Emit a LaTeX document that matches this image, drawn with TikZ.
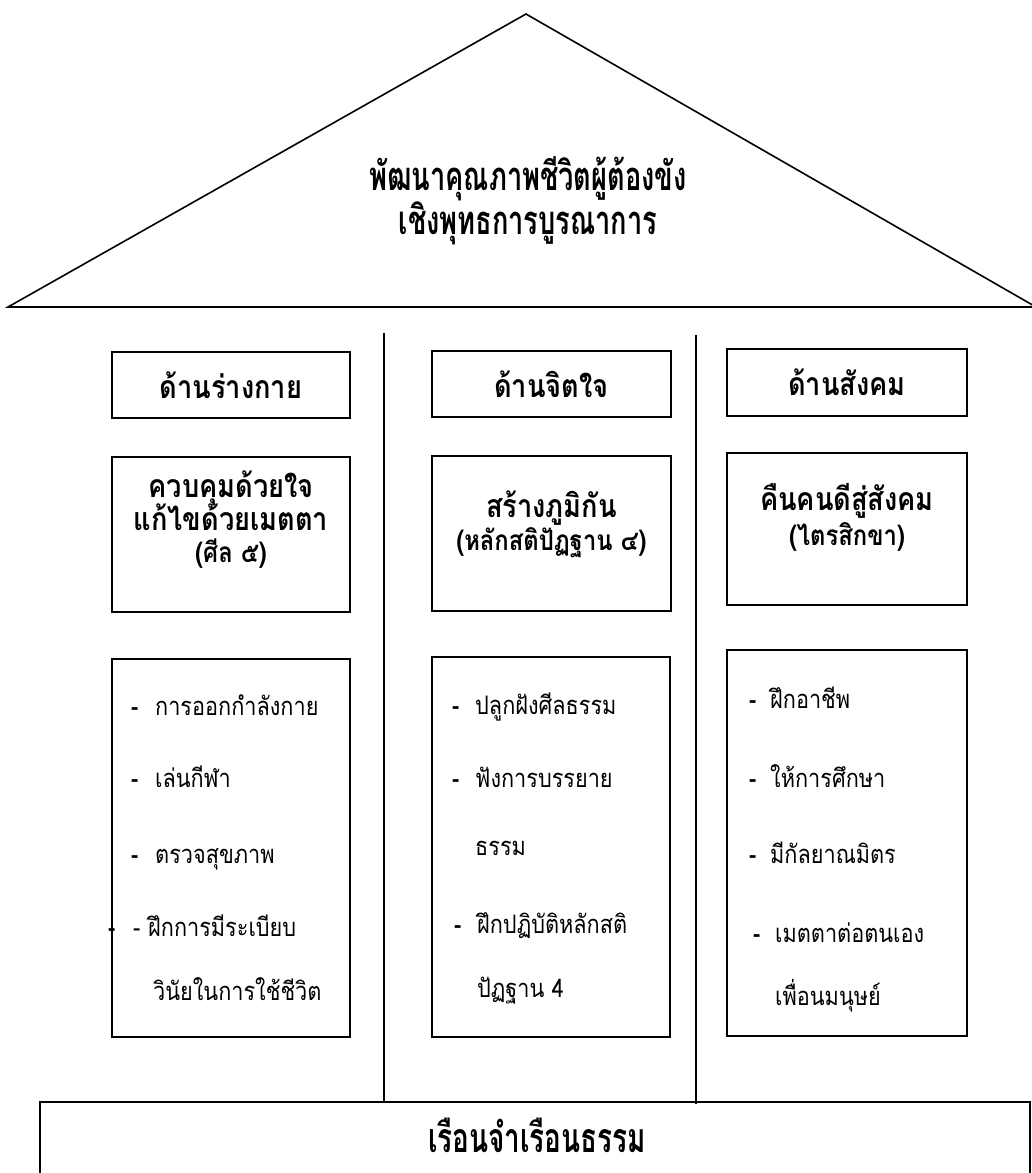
\documentclass[tikz,border=0pt]{standalone}
\usepackage{fontspec}
\newfontfamily\thaifont[Script=Thai,FakeStretch=0.85]{Loma}
\newfontfamily\thaicond[Script=Thai,FakeStretch=0.68]{Loma}
\newcommand{\dsh}[1]{\makebox[#1][l]{\bfseries -}}
\begin{document}
\begin{tikzpicture}[x=1pt,y=-1pt,
    panel/.style={draw,line width=1.6pt,inner sep=0pt},
    head/.style={panel,font=\thaifont\fontsize{32}{36}\selectfont\bfseries},
    big/.style={inner sep=0pt,anchor=base,font=\thaifont\fontsize{32}{36}\selectfont\bfseries},
    sub/.style={inner sep=0pt,anchor=base,font=\thaifont\fontsize{28}{32}\selectfont\bfseries},
    item/.style={inner sep=0pt,anchor=base west,font=\thaifont\fontsize{25.5}{29}\selectfont},
    wall/.style={line width=1.6pt}]
    \useasboundingbox (0,0) rectangle (1032,1173);

    % roof
    \coordinate (apex) at (526,14);
    \coordinate (eaveL) at (8,307);
    \coordinate (eaveR) at (1036,307);
    \draw[wall,line join=miter] (eaveL) -- (apex) -- (eaveR) -- cycle;
    \node[align=center,font=\thaicond\fontsize{40}{38}\selectfont\bfseries] (title) at (528,201)
        {พัฒนาคุณภาพชีวิตผู้ต้องขัง\\เชิงพุทธการบูรณาการ};

    % pillars
    \coordinate (p1top) at (384,333);
    \coordinate (p1bot) at (384,1103);
    \coordinate (p2top) at (696,335);
    \coordinate (p2bot) at (696,1104);
    \draw[wall] (p1top) -- (p1bot);
    \draw[wall] (p2top) -- (p2bot);

    % floor
    \node[panel,minimum width=990pt,minimum height=82pt] (floor) at (535,1143) {};
    \node[inner sep=0pt,anchor=base,font=\thaicond\fontsize{41}{38}\selectfont\bfseries] (floorlbl) at (537,1152) {เรือนจำเรือนธรรม};

    % headers
    \node[head,minimum width=238pt,minimum height=66pt] (h1) at (231,385) {ด้านร่างกาย};
    \node[head,minimum width=239pt,minimum height=66pt] (h2) at (551.5,384) {ด้านจิตใจ};
    \node[head,minimum width=240pt,minimum height=67pt] (h3) at (847,382.5) {ด้านสังคม};

    % principle boxes
    \node[panel,minimum width=238pt,minimum height=155pt] (g1) at (231,534.5) {};
    \node[panel,minimum width=239pt,minimum height=155pt] (g2) at (551.5,533.5) {};
    \node[panel,minimum width=240pt,minimum height=152pt] (g3) at (847,529) {};
    \node[big] (g1a) at (231,497) {ควบคุมด้วยใจ};
    \node[big] (g1b) at (231,530) {แก้ไขด้วยเมตตา};
    \node[sub] (g1c) at (231,562) {(ศีล ๕)};
    \node[big] (g2a) at (551.5,517) {สร้างภูมิกัน};
    \node[sub] (g2b) at (551.5,550) {(หลักสติปัฏฐาน ๔)};
    \node[big] (g3a) at (847,510) {คืนคนดีสู่สังคม};
    \node[sub] (g3b) at (847,545) {(ไตรสิกขา)};

    % activity boxes
    \node[panel,minimum width=238pt,minimum height=378pt] (a1) at (231,848) {};
    \node[panel,minimum width=238pt,minimum height=380pt] (a2) at (551,847) {};
    \node[panel,minimum width=240pt,minimum height=386pt] (a3) at (847,843) {};

    \node[item] (a1i1) at (131,715) {\dsh{24pt}การออกกำลังกาย};
    \node[item] (a1i2) at (131,787) {\dsh{24pt}เล่นกีฬา};
    \node[item] (a1i3) at (131,863) {\dsh{24pt}ตรวจสุขภาพ};
    \node[item] (a1tick) at (108,936) {\bfseries -};
    \node[item] (a1i4) at (133,936) {\makebox[15pt][l]{-}ฝึกการมีระเบียบ};
    \node[item] (a1i4b) at (153,1000) {วินัยในการใช้ชีวิต};

    \node[item] (a2i1) at (452,714) {\dsh{23pt}ปลูกฝังศีลธรรม};
    \node[item] (a2i2) at (452,787) {\dsh{23pt}ฟังการบรรยาย};
    \node[item] (a2i2b) at (475,855) {ธรรม};
    \node[item] (a2i3) at (454,933) {\dsh{23pt}ฝึกปฏิบัติหลักสติ};
    \node[item] (a2i3b) at (477,997) {ปัฏฐาน 4};

    \node[item] (a3i1) at (749,708) {\dsh{21pt}ฝึกอาชีพ};
    \node[item] (a3i2) at (749,787) {\dsh{21pt}ให้การศึกษา};
    \node[item] (a3i3) at (749,863) {\dsh{21pt}มีกัลยาณมิตร};
    \node[item] (a3i4) at (753,942) {\dsh{22pt}เมตตาต่อตนเอง};
    \node[item] (a3i4b) at (775,1005) {เพื่อนมนุษย์};
\end{tikzpicture}
\end{document}
